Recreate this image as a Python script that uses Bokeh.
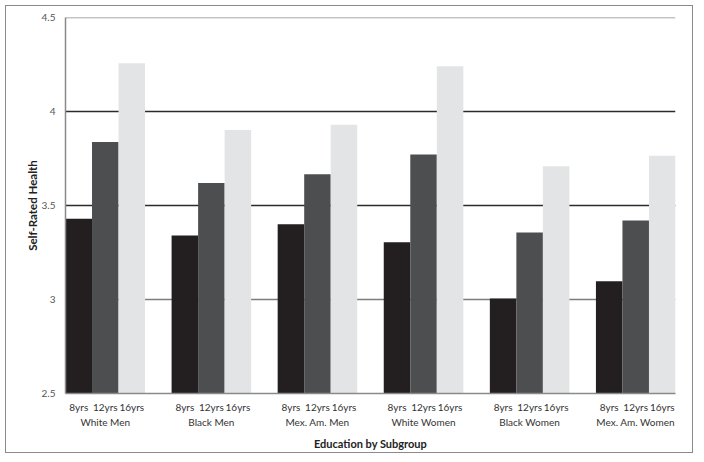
from bokeh.plotting import figure
from bokeh.models import FactorRange, Range1d, FixedTicker, Span, ColumnDataSource, CustomJSTickFormatter
from bokeh.embed import file_html
from bokeh.resources import INLINE

groups = ["White Men", "Black Men", "Mex. Am. Men", "White Women", "Black Women", "Mex. Am. Women"]
education = ["8yrs", "12yrs", "16yrs"]
yrs8 = [3.43, 3.34, 3.40, 3.305, 3.005, 3.097]
yrs12 = [3.838, 3.62, 3.666, 3.771, 3.356, 3.42]
yrs16 = [4.257, 3.902, 3.929, 4.241, 3.709, 3.764]
colors = ["#231f20", "#4d4e50", "#e3e4e5"]
y_ticks = [2.5, 3, 3.5, 4, 4.5]

FONT = "Lato"

xs, tops, fills = [], [], []
for i, g in enumerate(groups):
    for j, (e, vals) in enumerate(zip(education, [yrs8, yrs12, yrs16])):
        xs.append((g, e))
        tops.append(vals[i])
        fills.append(colors[j])
src = ColumnDataSource(dict(x=xs, top=tops, fill=fills))

p = figure(
    frame_width=610, frame_height=376,
    x_range=FactorRange(*xs, group_padding=1.0, factor_padding=0.0, range_padding=0.0),
    y_range=Range1d(2.5, 4.5),
    output_backend="svg", toolbar_location=None,
    min_border_left=59, min_border_right=17, min_border_top=11, min_border_bottom=59,
)
p.styles = {"border": "1.5px solid #8a8a8a", "margin": "5px"}
p.outline_line_color = None
p.xgrid.visible = False
p.ygrid.visible = False

grid_colors = {3: "#7d7d7d", 3.5: "#2b2b2b", 4: "#2b2b2b", 4.5: "#8a8a8a"}
for v in y_ticks[1:]:
    p.add_layout(Span(location=v, dimension="width", line_color=grid_colors[v],
                      line_width=1.4, level="underlay"))

p.vbar(x="x", top="top", bottom=2.5, width=1.0, source=src, fill_color="fill", line_color=None)

# y axis
ya = p.yaxis[0]
ya.ticker = FixedTicker(ticks=y_ticks)
ya.formatter = CustomJSTickFormatter(code="return tick.toString()")
ya.axis_label = "Self-Rated Health"
ya.axis_label_text_font = FONT
ya.axis_label_text_font_style = "bold"
ya.axis_label_text_font_size = "11.5px"
ya.axis_label_text_color = "#222222"
ya.axis_label_standoff = 0
ya.major_label_text_font = FONT
ya.major_label_text_font_size = "10px"
ya.major_label_text_color = "#555555"
ya.major_label_standoff = 10
ya.major_tick_out = 0
ya.major_tick_in = 0
ya.major_tick_line_color = None
ya.minor_tick_line_color = None
ya.axis_line_color = "#8a8a8a"
ya.axis_line_width = 1.5

# x axis
xa = p.xaxis[0]
xa.axis_label = "Education by Subgroup"
xa.axis_label_text_font = FONT
xa.axis_label_text_font_style = "bold"
xa.axis_label_text_font_size = "11px"
xa.axis_label_text_color = "#222222"
xa.axis_label_standoff = 6
xa.major_label_text_font = FONT
xa.major_label_text_font_size = "10px"
xa.major_label_text_color = "#333333"
xa.major_label_standoff = 0
xa.group_text_font = FONT
xa.group_text_font_size = "10px"
xa.group_text_font_style = "normal"
xa.group_text_color = "#333333"
xa.separator_line_color = None
xa.major_tick_out = 7
xa.major_tick_in = 0
xa.major_tick_line_color = None
xa.minor_tick_line_color = None
xa.axis_line_color = "#8a8a8a"
xa.axis_line_width = 1.5

open("out.html", "w").write(file_html(p, INLINE))
